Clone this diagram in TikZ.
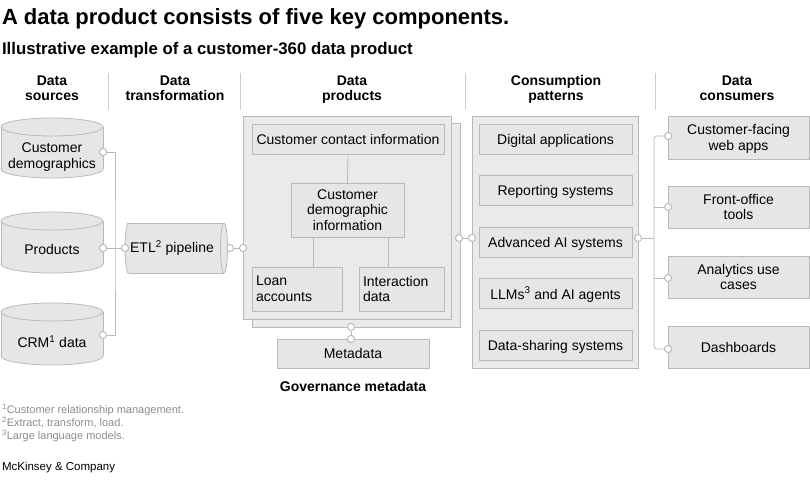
\documentclass[tikz,border=0pt]{standalone}
\usepackage{fontspec}
\setmainfont{Liberation Sans}
\definecolor{bfill}{HTML}{E6E6E6}
\definecolor{pfill}{HTML}{EAEAEA}
\definecolor{bline}{HTML}{B9B9B9}
\definecolor{sepc}{HTML}{CDCDCD}
\definecolor{fnote}{HTML}{8C8C8C}
\begin{document}
\begin{tikzpicture}[x=1pt,y=-1pt,
  every node/.style={inner sep=0pt, outer sep=0pt},
  body/.style={font=\fontsize{14}{15.5}\selectfont, align=center},
  hdr/.style={font=\bfseries\fontsize{14}{15}\selectfont, align=center},
  box/.style={draw=bline, fill=bfill, line width=0.8pt, body, text depth=0pt},
  panel/.style={draw=bline, fill=pfill, line width=0.8pt},
  conn/.style={draw=bline, line width=0.8pt},
  dot/.style={circle, draw=bline, fill=white, line width=0.8pt, minimum size=7pt},
  sepline/.style={draw=sepc, line width=0.8pt},
  fn/.style={font=\fontsize{11}{12}\selectfont, text=fnote, anchor=base west}
]
\useasboundingbox (0,0) rectangle (810,481);

% Title
\node[anchor=base west, font=\bfseries\fontsize{22}{24}\selectfont] (title) at (2,25) {A data product consists of five key components.};
\node[anchor=base west, font=\bfseries\fontsize{16.8}{18}\selectfont] (subtitle) at (2,55) {Illustrative example of a customer-360 data product};

% Headers
\node[hdr] (h1) at (52,88) {Data\\sources};
\node[hdr] (h2) at (175,88) {Data\\transformation};
\node[hdr] (h3) at (352,89.5) {Data\\products};
\node[hdr] (h4) at (556,89.5) {Consumption\\patterns};
\node[hdr] (h5) at (737,88) {Data\\consumers};
\draw[sepline] (108,73) -- (108,110);
\draw[sepline] (240,73) -- (240,110);
\draw[sepline] (465,73) -- (465,110);
\draw[sepline] (655,73) -- (655,110);

% Vertical cylinders
\newcommand{\vcyl}[4]{% x0, x1, ytop, ybot
  \pgfmathsetmacro{\cx}{(#1+#2)/2}
  \pgfmathsetmacro{\rx}{(#2-#1)/2}
  \fill[bfill] (\cx,#4-9) ellipse [x radius=\rx pt, y radius=9pt];
  \draw[bline, line width=0.8pt] (\cx,#4-9) ellipse [x radius=\rx pt, y radius=9pt];
  \fill[bfill] (#1,#3+9) rectangle (#2,#4-9);
  \draw[bline, line width=0.8pt] (#1,#3+9) -- (#1,#4-9) (#2,#3+9) -- (#2,#4-9);
  \fill[bfill] (\cx,#3+9) ellipse [x radius=\rx pt, y radius=9pt];
  \draw[bline, line width=0.8pt] (\cx,#3+9) ellipse [x radius=\rx pt, y radius=9pt];
}
\vcyl{1}{103}{118}{178}
\vcyl{1}{103}{212}{273}
\vcyl{1}{103}{303}{365}
\node[body] (src1) at (52,157) {Customer\\demographics};
\node[body] (src2) at (52,249) {Products};
\node[body] (src3) at (52,342) {CRM\textsuperscript{1} data};

% ETL horizontal cylinder
\fill[bfill] (128.5,248) ellipse [x radius=3.5pt, y radius=25pt];
\draw[bline, line width=0.8pt] (128.5,248) ellipse [x radius=3.5pt, y radius=25pt];
\fill[bfill] (128.5,223) rectangle (224,273);
\draw[bline, line width=0.8pt] (128.5,223) -- (224,223) (128.5,273) -- (224,273);
\fill[bfill] (224,248) ellipse [x radius=3.5pt, y radius=25pt];
\draw[bline, line width=0.8pt] (224,248) ellipse [x radius=3.5pt, y radius=25pt];
\node[body] (etl) at (172,248) {ETL\textsuperscript{2} pipeline};

% Data products panel
\draw[panel] (252,123) rectangle (460,327);
\draw[panel] (243,116) rectangle (451,319);
\node[box, minimum width=192pt, minimum height=30pt] (contact) at (348,139) {Customer contact information};
\node[box, minimum width=113pt, minimum height=54pt] (demog) at (347.5,210) {Customer\\demographic\\information};
\node[box, text depth={}, minimum width=90pt, minimum height=44pt, text width=82pt, align=left] (loan) at (297,289) {Loan\\accounts};
\node[box, text depth={}, minimum width=85pt, minimum height=44pt, text width=77pt, align=left] (inter) at (401.5,289) {Interaction\\data};
\draw[conn] (contact.south) -- (demog.north);
\draw[conn] (demog.south -| loan.north) ++(16,0) coordinate (dl) -- (dl |- loan.north);
\draw[conn] (demog.south -| inter.north) ++(-13.5,0) coordinate (di) -- (di |- inter.north);

% Metadata
\node[box, minimum width=152pt, minimum height=29pt] (meta) at (353,353.5) {Metadata};
\node[font=\bfseries\fontsize{14}{16}\selectfont] (gov) at (353,386) {Governance metadata};

% Consumption panel
\draw[panel] (472,116) rectangle (638,368);
\node[box, minimum width=153pt, minimum height=30pt] (cp1) at (555.5,139) {Digital applications};
\node[box, minimum width=153pt, minimum height=30pt] (cp2) at (555.5,190.5) {Reporting systems};
\node[box, minimum width=153pt, minimum height=30pt] (cp3) at (555.5,242) {Advanced AI systems};
\node[box, minimum width=153pt, minimum height=30pt] (cp4) at (555.5,293) {LLMs\textsuperscript{3} and AI agents};
\node[box, minimum width=153pt, minimum height=30pt] (cp5) at (555.5,345) {Data-sharing systems};

% Consumers
\node[box, minimum width=141pt, minimum height=43pt] (dc1) at (738.5,137.5) {Customer-facing\\web apps};
\node[box, minimum width=141pt, minimum height=42pt] (dc2) at (738.5,207) {Front-office\\tools};
\node[box, minimum width=141pt, minimum height=42pt] (dc3) at (738.5,277) {Analytics use\\cases};
\node[box, minimum width=141pt, minimum height=42pt] (dc4) at (738.5,347) {Dashboards};

% Connector dots
\node[dot] (d1) at (103,152) {};
\node[dot] (d2) at (103,248) {};
\node[dot] (d3) at (103,335) {};
\node[dot] (ein) at (125,248) {};
\node[dot] (eout) at (230,248) {};
\node[dot] (pin) at (243,248) {};
\node[dot] (pout) at (459,238) {};
\node[dot] (cin) at (472,238) {};
\node[dot] (cout) at (638,238) {};
\node[dot] (pbot) at (351,327) {};
\node[dot] (mtop) at (351,339) {};
\node[dot] (k1) at (668,136) {};
\node[dot] (k2) at (668,207) {};
\node[dot] (k3) at (668,278) {};
\node[dot] (k4) at (668,349) {};
\coordinate (js) at (115,248);
\coordinate (jc) at (654,238);

% Connectors
\draw[conn] (d1.east) -| (js) |- (d3.east);
\draw[conn] (d2.east) -- (ein.west);
\draw[conn] (eout.east) -- (pin.west);
\draw[conn] (pout.east) -- (cin.west);
\draw[conn] (pbot.south) -- (mtop.north);
\draw[conn] (cout.east) -- (jc);
\draw[conn, rounded corners=3pt] (k1.west) -| (jc) |- (k4.west);
\draw[conn] (jc |- k2) -- (k2.west);
\draw[conn] (jc |- k3) -- (k3.west);
% redraw dots over lines
\foreach \n in {d1,d2,d3,ein,eout,pin,pout,cin,cout,pbot,mtop,k1,k2,k3,k4}
  \draw[bline, fill=white, line width=0.8pt] (\n) circle (3.5pt);

% Footnotes
\node[fn] (f1) at (2,413) {\textsuperscript{1}Customer relationship management.};
\node[fn] (f2) at (2,426) {\textsuperscript{2}Extract, transform, load.};
\node[fn] (f3) at (2,439) {\textsuperscript{3}Large language models.};
\node[anchor=base west, font=\fontsize{11.5}{13}\selectfont] (mck) at (2,470) {McKinsey \& Company};
\end{tikzpicture}
\end{document}
